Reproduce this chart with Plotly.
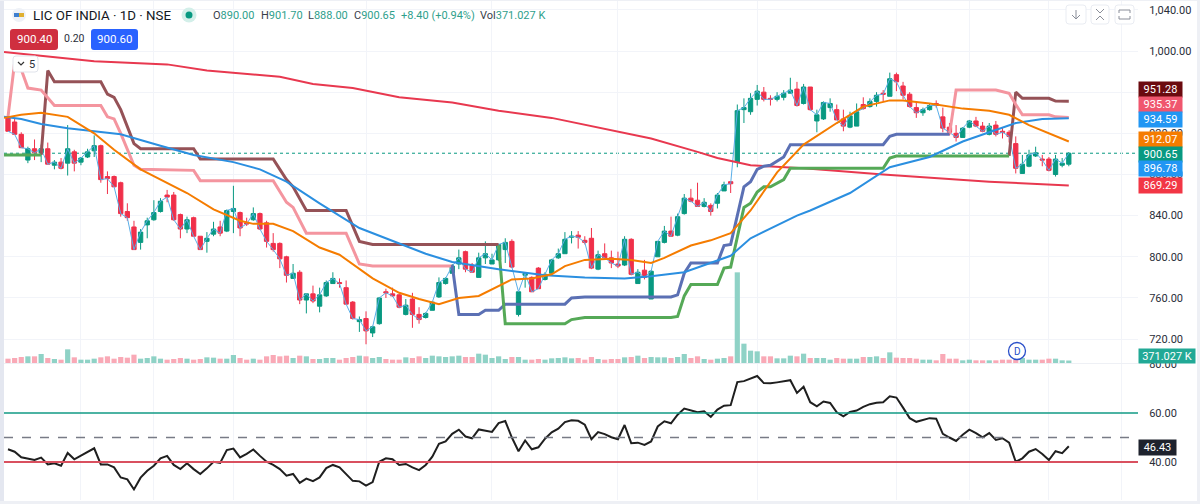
import plotly.graph_objects as go

# candles
opens = [936, 931, 919, 894, 905, 901, 905, 889, 892, 891, 902, 892, 897, 903, 908, 878, 878, 872, 844, 829,
         814, 831, 836, 844, 860, 860, 841, 827, 838, 820, 815, 822, 829, 825, 844, 843, 833, 836, 842, 833,
         813, 813, 800, 779, 785, 758, 764, 752, 762, 774, 775, 770, 756, 737, 740, 726, 735, 766, 764, 763,
         744, 759, 744, 741, 748, 761, 774, 784, 793, 805, 792, 780, 799, 793, 797, 807, 815, 744, 782, 780,
         789, 778, 784, 799, 803, 819, 821, 816, 818, 788, 803, 799, 793, 792, 817, 774, 787, 759, 800, 814,
         825, 821, 842, 857, 855, 849, 850, 852, 864, 873, 892, 943, 941, 953, 960, 954, 953, 955, 959, 963,
         949, 965, 932, 934, 945, 943, 934, 926, 927, 948, 946, 951, 959, 956, 977, 966, 958, 945, 940, 943,
         949, 936, 926, 920, 916, 926, 932, 927, 919, 928, 922, 921, 910, 881, 888, 898, 895, 895, 880, 889, 890]
highs = [938, 935, 921, 907, 914, 909, 911, 894, 896, 928, 904, 897, 905, 918, 909, 883, 879, 873, 852, 835,
         827, 838, 855, 857, 865, 863, 842, 839, 839, 820, 824, 834, 835, 846, 869, 844, 838, 848, 843, 835,
         823, 814, 801, 793, 787, 764, 772, 770, 777, 785, 779, 777, 757, 742, 747, 733, 761, 769, 770, 764,
         759, 765, 751, 746, 757, 780, 780, 793, 807, 806, 794, 804, 815, 803, 812, 818, 817, 767, 785, 781,
         790, 785, 798, 808, 824, 825, 825, 820, 828, 806, 813, 806, 805, 820, 818, 788, 797, 787, 815, 830,
         839, 842, 861, 866, 872, 857, 852, 862, 873, 873, 948, 954, 959, 967, 965, 957, 960, 962, 974, 970,
         968, 965, 943, 951, 954, 948, 943, 941, 949, 955, 954, 960, 962, 979, 979, 970, 960, 951, 945, 949,
         952, 945, 930, 928, 926, 933, 936, 931, 930, 932, 926, 923, 917, 899, 904, 907, 899, 897, 899, 896, 901.7]
lows = [922, 919, 906, 891, 894, 892, 890, 885, 885, 879, 883, 889, 896, 897, 872, 861, 868, 839, 835, 807,
        807, 818, 835, 843, 853, 835, 818, 823, 820, 807, 804, 820, 820, 824, 823, 820, 830, 835, 826, 809,
        805, 789, 775, 779, 754, 745, 755, 746, 761, 774, 770, 754, 739, 727, 715, 722, 734, 760, 761, 750,
        743, 731, 735, 740, 748, 760, 773, 784, 788, 785, 785, 780, 793, 793, 796, 794, 789, 742, 770, 766,
        769, 777, 783, 798, 803, 813, 808, 812, 788, 787, 798, 789, 789, 791, 782, 774, 778, 759, 800, 813,
        820, 820, 841, 853, 849, 848, 840, 847, 864, 862, 887, 930, 938, 947, 951, 947, 951, 952, 959, 946,
        948, 942, 921, 933, 941, 933, 922, 925, 927, 943, 945, 946, 951, 956, 961, 953, 945, 935, 937, 942,
        945, 921, 918, 912, 916, 925, 926, 921, 918, 917, 915, 911, 881, 881, 887, 897, 888, 883, 878, 887, 888]
closes = [922, 919, 906, 905, 901, 905, 890, 892, 886, 905, 891, 896, 902, 908, 875, 876, 868, 842, 838, 807,
          824, 835, 843, 854, 858, 836, 827, 836, 820, 807, 818, 827, 823, 845, 847, 828, 832, 842, 827, 815,
          807, 798, 782, 784, 758, 764, 757, 763, 775, 779, 774, 754, 740, 739, 728, 732, 760, 765, 762, 751,
          753, 744, 739, 745, 756, 775, 779, 791, 799, 788, 785, 799, 803, 797, 812, 814, 790, 766, 784, 766,
          769, 783, 797, 803, 817, 820, 819, 814, 789, 802, 799, 794, 791, 817, 783, 785, 780, 786, 815, 825,
          820, 839, 857, 854, 849, 853, 844, 860, 870, 871, 942, 945, 954, 961, 953, 953, 956, 959, 962, 947,
          965, 943, 938, 950, 949, 933, 927, 937, 941, 944, 951, 957, 958, 973, 970, 957, 946, 940, 943, 947,
          947, 925, 921, 916, 925, 932, 927, 922, 927, 919, 921, 917, 886, 890, 899, 901, 894, 884, 895, 891, 900.65]

# volume in thousands
volumes = [650, 750, 900, 1000, 1000, 1350, 750, 600, 500, 2050, 850, 500, 500, 650, 850, 1000, 650, 900, 800, 1250,
           650, 750, 1000, 650, 500, 600, 750, 650, 500, 600, 850, 800, 650, 650, 1200, 750, 500, 650, 500, 1000,
           1200, 1000, 1100, 750, 1100, 1000, 600, 600, 750, 750, 500, 750, 900, 1100, 1000, 750, 900, 600, 500, 500,
           850, 750, 1000, 750, 1100, 1000, 900, 1000, 1100, 900, 900, 1400, 1250, 750, 1000, 600, 900, 900, 500, 500,
           600, 500, 700, 750, 850, 700, 750, 500, 900, 600, 500, 600, 600, 850, 900, 1100, 750, 900, 850, 850,
           750, 900, 1350, 750, 1000, 600, 500, 650, 750, 1000, 13600, 2900, 1850, 1750, 1000, 1000, 700, 700, 1100, 1000,
           1400, 750, 750, 750, 500, 750, 650, 650, 650, 900, 900, 1000, 750, 1600, 800, 750, 750, 650, 500, 500,
           400, 1350, 650, 650, 400, 500, 400, 400, 400, 400, 500, 500, 500, 750, 500, 500, 500, 650, 650, 400, 371.027]

rsi = [45.2, 44.2, 41.9, 41.5, 40.8, 41.8, 39.0, 39.5, 38.5, 43.7, 41.1, 42.6, 44.1, 45.6, 39.0, 39.0, 37.8, 33.7, 32.9, 28.8,
       33.6, 36.4, 38.5, 41.5, 42.5, 38.8, 37.1, 39.5, 37.1, 35.1, 37.4, 40.1, 39.6, 44.9, 45.5, 41.9, 43.3, 45.1, 42.5, 40.1,
       38.8, 37.1, 34.4, 35.1, 31.5, 33.2, 32.2, 33.7, 37.5, 38.8, 37.8, 34.9, 32.3, 32.1, 30.4, 31.8, 40.1, 41.5, 41.1, 38.8,
       39.2, 37.8, 36.7, 38.8, 42.2, 47.4, 48.4, 51.5, 53.2, 50.4, 49.7, 53.3, 52.9, 52.3, 55.9, 56.7, 50.0, 44.4, 48.8, 45.2,
       46.0, 49.5, 52.1, 53.6, 56.3, 57.0, 56.8, 55.2, 49.3, 52.2, 51.4, 50.1, 49.3, 55.1, 47.7, 47.9, 47.0, 48.4, 54.5, 56.6,
       55.8, 59.3, 61.8, 61.1, 60.3, 60.7, 58.4, 61.4, 63.0, 63.2, 72.6, 73.0, 74.1, 75.1, 72.2, 72.1, 72.5, 72.9, 73.4, 68.2,
       70.7, 64.4, 62.7, 64.7, 64.1, 60.3, 58.6, 60.4, 61.0, 62.5, 63.6, 64.2, 64.4, 66.8, 66.3, 62.2, 57.9, 56.4, 57.3, 57.9,
       57.7, 51.5, 50.0, 48.6, 51.1, 53.2, 51.8, 50.1, 51.8, 49.0, 49.7, 47.9, 40.1, 41.5, 44.2, 45.3, 43.3, 40.8, 44.4, 43.6, 46.43]

# moving averages, knots taken along each curve
ma_long_x = [-0.6, 13, 24, 30, 41, 46, 52, 59, 67, 74, 82, 89, 97, 104, 107, 112, 120, 132, 148, 160]
ma_long_y = [999, 990, 987, 981, 975, 968, 964, 955, 950, 942, 935, 926, 915, 902, 896, 889, 886, 880, 873, 869.29]
ma_mid_x = [-0.6, 2, 5, 9, 13, 17, 23, 28, 34, 38, 42, 47, 53, 59, 63, 67, 74, 81, 87, 93, 97, 102, 109, 112, 119, 121, 127, 133, 139, 144, 148, 152, 156, 160]
ma_mid_y = [936, 934, 929, 925, 922, 919, 908, 899, 892, 885, 873, 852, 828, 813, 803, 795, 788, 782, 780, 779, 781, 785, 801, 818, 840, 845, 862, 887, 897, 912, 921, 930, 934, 934.59]
ema_x = [-0.6, 2, 5, 9, 13, 16, 20, 24, 27, 31, 35, 37, 40, 43, 47, 50, 55, 59, 62, 65, 68, 71, 74, 76, 79, 82, 84, 87, 91, 94, 97, 99, 103, 106, 109, 112, 116, 120, 125, 129, 133, 135, 139, 144, 148, 151, 154, 158, 160]
ema_y = [935, 938, 940, 936, 920, 904, 885, 872, 862, 846, 835, 832, 832, 825, 809, 802, 779, 765, 759, 754, 760, 762, 772, 778, 779, 783, 791, 797, 798, 797, 794, 799, 811, 816, 823, 845, 882, 909, 930, 946, 952, 952, 949, 944, 942, 938, 928, 917, 912.07]

# stepped stop lines, None marks a break
upper_dark_x = [5, 6, 7, 14, 15, 16, 17, 19, 20, 28, 29, 40, 41, 42, 43, 45, 51, 53, 55, 74, None, 151, 152, 153, 157, 158, 160]
upper_dark_y = [899, 981, 970, 970, 958, 955, 943, 910, 905, 905, 895, 895, 885, 875, 868, 845, 845, 815, 812, 812, None, 898, 960, 954, 954, 951.3, 951.28]
upper_light_x = [0, 1, 2, 3, 5, 7, 14, 15, 16, 17, 19, 20, 28, 29, 40, 42, 43, 45, 51, 53, 55, 67, None, 142, 143, 149, 151, 152, 153, 157, 158, 160]
upper_light_y = [936, 989, 982, 964, 962, 947, 947, 936, 934, 920, 889, 885, 884, 874, 874, 853, 848, 823, 823, 793, 791, 791, None, 919, 962, 962, 959, 948, 938, 938, 936, 935.37]
lower_blue_x = [67, 68, 71, 72, 74, 75, 84, 85, 87, 100, 101, 102, 103, 107, 108, 109, 111, 112, 113, 114, 115, 117, 118, 132, 133, 134, 142]
lower_blue_y = [792, 744, 744, 748, 748, 754, 754, 760, 761, 761, 763, 784, 794, 794, 811, 812, 868, 873, 885, 888, 889, 897, 909, 909, 917, 919, 919]
lower_green_x = [-0.6, 5, None, 74, 75, 84, 85, 87, 100, 101, 102, 103, 107, 108, 109, 111, 112, 113, 114, 115, 117, 118, 132, 133, 134, 151]
lower_green_y = [899, 899, None, 811, 735, 735, 739, 741, 741, 742, 762, 773, 773, 789, 790, 848, 852, 863, 868, 868, 875, 886, 886, 896, 898, 898]

price_ticks = [720, 760, 800, 840, 880, 920, 960, 1000, 1040]
# 960.00 sits fully behind the 951.28 tag, only its grid line shows
price_tick_text = ["720.00", "760.00", "800.00", "840.00", "880.00", "920.00", "", "1,000.00", "1,040.00"]
rsi_ticks = [40, 60, 80]
grid_x = [11, 22, 34, 54, 73, 92, 113, 134, 145, 157, 168]

# value tags on the price axis: text, colour, centre y in px
price_tags = [
    ("951.28", "#6b0a0f", 89.5),
    ("935.37", "#f0566e", 104.5),
    ("934.59", "#2196f3", 119.5),
    ("912.07", "#f57c00", 139.5),
    ("900.65", "#089981", 154.5),
    ("896.78", "#2196f3", 169),
    ("869.29", "#f23645", 185.5),
]

GREEN = "#089981"
TEAL_TEXT = "#2f9f8c"
RED = "#f0304a"
GRID = "#f2f4f9"
FONT = "Roboto"
TEXT = "#2a2e39"
W, H = 1200, 504


def px(x):
    return x / W


def py(y):
    return 1 - y / H


def rounded(x0, y0, x1, y1, fill, line="rgba(0,0,0,0)", r=3, lw=1):
    path = (
        f"M{px(x0 + r)},{py(y0)} L{px(x1 - r)},{py(y0)} Q{px(x1)},{py(y0)} {px(x1)},{py(y0 + r)} "
        f"L{px(x1)},{py(y1 - r)} Q{px(x1)},{py(y1)} {px(x1 - r)},{py(y1)} "
        f"L{px(x0 + r)},{py(y1)} Q{px(x0)},{py(y1)} {px(x0)},{py(y1 - r)} "
        f"L{px(x0)},{py(y0 + r)} Q{px(x0)},{py(y0)} {px(x0 + r)},{py(y0)} Z"
    )
    return dict(type="path", xref="paper", yref="paper", path=path, fillcolor=fill,
                line=dict(color=line, width=lw), layer="above")


def box(x0, y0, x1, y1, fill):
    return dict(type="rect", xref="paper", yref="paper", x0=px(x0), x1=px(x1), y0=py(y0), y1=py(y1),
                fillcolor=fill, line_width=0, layer="above")


def circle(cx, cy, r, fill, line="rgba(0,0,0,0)", lw=0):
    return dict(type="circle", xref="paper", yref="paper", x0=px(cx - r), x1=px(cx + r), y0=py(cy - r), y1=py(cy + r),
                fillcolor=fill, line=dict(color=line, width=lw), layer="above")


def stroke(points, color="#787b86", lw=1):
    path = "M" + " L".join(f"{px(x)},{py(y)}" for x, y in points)
    return dict(type="path", xref="paper", yref="paper", path=path, line=dict(color=color, width=lw), layer="above")


def label(x, y, text, size=11, color=TEXT, anchor="left", **kw):
    return dict(xref="paper", yref="paper", x=px(x), y=py(y), xanchor=anchor, yanchor="middle", text=text,
                showarrow=False, font=dict(family=FONT, size=size, color=color), **kw)


def tag(x0, y, text, color, w=43, h=15):
    return label(x0, y, text, size=11, color="white", width=w, height=h, bgcolor=color, align="center", borderpad=0)


def line(x, y, color, width):
    return go.Scatter(x=x, y=y, mode="lines", yaxis="y2", line=dict(color=color, width=width), hoverinfo="skip", showlegend=False)


idx = list(range(len(closes)))
vol_colors = ["#8fd2c6" if c >= o else "#f9a9b6" for o, c in zip(opens, closes)]

fig = go.Figure()
fig.add_trace(go.Bar(x=idx, y=volumes, marker=dict(color=vol_colors, line_width=0), width=0.78, showlegend=False, hoverinfo="skip"))
fig.add_trace(line(idx, closes, "#5aaee8", 1))
fig.add_trace(go.Candlestick(
    x=idx, open=opens, high=highs, low=lows, close=closes, yaxis="y2", whiskerwidth=0,
    increasing=dict(line=dict(color=GREEN, width=1), fillcolor=GREEN),
    decreasing=dict(line=dict(color=RED, width=1), fillcolor=RED),
    showlegend=False, hoverinfo="skip",
))
fig.add_trace(line(ma_long_x, ma_long_y, "#e8384f", 2))
fig.add_trace(line(upper_dark_x, upper_dark_y, "#955257", 3))
fig.add_trace(line(upper_light_x, upper_light_y, "#f4959f", 3))
fig.add_trace(line(lower_blue_x, lower_blue_y, "#5b70b4", 3))
fig.add_trace(line(lower_green_x, lower_green_y, "#55a957", 3))
fig.add_trace(line(ma_mid_x, ma_mid_y, "#2b8fe0", 2))
fig.add_trace(line(ema_x, ema_y, "#f57c00", 2))
fig.add_trace(go.Scatter(x=idx, y=rsi, mode="lines", xaxis="x2", yaxis="y3", line=dict(color="#1f1f1f", width=2),
                         hoverinfo="skip", showlegend=False))

x_range = [(4 - 8) / 6.63, (1138 - 8) / 6.63]
x_style = dict(range=x_range, showticklabels=False, ticks="", tickvals=grid_x, showgrid=True, gridcolor=GRID,
               gridwidth=1, zeroline=False, showline=False, rangeslider_visible=False, automargin=False)
x_dom = [px(4), px(1138)]
price_dom = [py(363), py(0)]
rsi_dom = [py(500), py(364)]


def level_line(y, color, width, dash="solid"):
    return dict(type="line", xref="x2", yref="y3", x0=x_range[0], x1=x_range[1], y0=y, y1=y, line=dict(color=color, width=width, dash=dash), layer="above")


shapes = [
    box(0, 0, 4, H, "#e4e7f0"),
    box(0, 501, W, H, "#eef0f5"),
    box(1197, 0, W, H, "#eef0f5"),
    box(0, 0, W, 1, "#eef0f5"),
    box(4, 363, 1138, 364, "#eef0f5"),
    # last price dotted line
    dict(type="line", xref="paper", yref="y2", x0=px(4), x1=px(1138), y0=900.65, y1=900.65,
         line=dict(color=GREEN, width=1, dash="dot"), layer="below"),
    level_line(60, "#119a85", 1.6),
    level_line(40, "#d9505f", 2),
    level_line(50, "#787b86", 1.3, "dash"),
    # legend widgets
    circle(19, 15, 7, "#eef1f7"),
    box(14, 13, 19, 17, "#3f7fd0"),
    box(19, 13, 24, 17, "#e0b030"),
    circle(189, 15, 7.5, "#d3efe9"),
    circle(189, 15, 3.5, GREEN),
    rounded(10, 29, 58, 50, "#cf2f3f"),
    rounded(91, 29, 138, 50, "#2962ff"),
    rounded(13, 56, 38, 72, "white", "#e0e3eb"),
    stroke([(18, 62), (21, 65), (24, 62)], "#333", 1.2),
    # top right buttons
    rounded(1066, 5, 1086, 24, "white", "#e9ecf2"),
    rounded(1091, 5, 1109, 24, "white", "#e9ecf2"),
    rounded(1115, 5, 1134, 24, "white", "#e9ecf2"),
    stroke([(1076, 10), (1076, 19)], "#8a8e99"),
    stroke([(1072, 15), (1076, 19), (1080, 15)], "#8a8e99"),
    stroke([(1096, 9), (1100, 13), (1104, 9)], "#8a8e99"),
    stroke([(1096, 20), (1100, 16), (1104, 20)], "#8a8e99"),
    stroke([(1119, 13), (1119, 10), (1130, 10), (1130, 13)], "#8a8e99"),
    stroke([(1119, 16), (1119, 19), (1130, 19), (1130, 16)], "#8a8e99"),
    # dividend marker
    circle(1017, 351, 8.5, "white", "#2a4fc9", 1.3),
]


def teal(text):
    return f'<span style="color:{TEAL_TEXT}">{text}</span>'


annotations = [
    label(31, 15, "LIC OF INDIA · 1D · NSE", size=13.3, color="#131722"),
    label(211, 15, "O" + teal("890.00"), color="#3a3e4a"),
    label(259, 15, "H" + teal("901.70"), color="#3a3e4a"),
    label(306, 15, "L" + teal("888.00"), color="#3a3e4a"),
    label(352, 15, "C" + teal("900.65"), color="#3a3e4a"),
    label(399, 15, "+8.40 (+0.94%)", color=TEAL_TEXT),
    label(478, 15, "Vol" + teal("371.027 K"), color="#3a3e4a"),
    label(34, 39.5, "900.40", size=11.5, color="white", anchor="center"),
    label(74, 39, "0.20", size=10.5, color=TEXT, anchor="center"),
    label(114.5, 39.5, "900.60", size=11.5, color="white", anchor="center"),
    label(31.5, 64, "5", size=11, color=TEXT, anchor="center"),
    label(1017, 351, "D", size=10, color="#2a4fc9", anchor="center"),
]
annotations += [tag(1138, y, text, color) for text, color, y in price_tags]
annotations.append(tag(1138, 356, "371.027 K", "#22a996", w=56, h=14))
annotations.append(tag(1138, 447.5, "46.43", "#1e222d", w=37, h=15))

fig.update_layout(
    width=W,
    height=H,
    margin=dict(l=0, r=0, t=0, b=0),
    paper_bgcolor="white",
    plot_bgcolor="white",
    font=dict(family=FONT, size=11, color=TEXT),
    showlegend=False,
    barmode="overlay",
    boxgap=0.35,
    boxgroupgap=0,
    xaxis=dict(domain=x_dom, anchor="y", **x_style),
    xaxis2=dict(domain=x_dom, anchor="y3", **x_style),
    # volume sits under everything, 150K per px
    yaxis=dict(domain=price_dom, range=[0, 54450], visible=False, showgrid=False, automargin=False),
    yaxis2=dict(domain=price_dom, overlaying="y", side="right", anchor="x", range=[1000 - 312 / 1.029, 1000 + 51 / 1.029],
                tickvals=price_ticks, ticktext=price_tick_text, showgrid=True, gridcolor=GRID, zeroline=False, showline=False, automargin=False,
                ticks="outside", ticklen=8, tickcolor="rgba(0,0,0,0)", tickfont=dict(family=FONT, size=11, color=TEXT)),
    yaxis3=dict(domain=rsi_dom, side="right", anchor="x2", range=[60 - 87 / 2.45, 60 + 49 / 2.45],
                tickvals=rsi_ticks, tickformat=".2f", showgrid=False, zeroline=False, showline=False, automargin=False,
                ticks="outside", ticklen=8, tickcolor="rgba(0,0,0,0)", tickfont=dict(family=FONT, size=11, color=TEXT)),
    shapes=shapes,
    annotations=annotations,
)

fig.write_html("out.html", config=dict(displayModeBar=False), post_script="document.body.style.margin='0';")
